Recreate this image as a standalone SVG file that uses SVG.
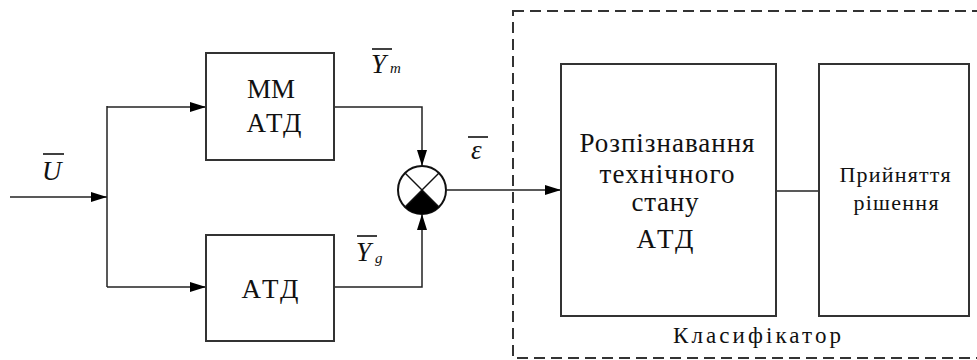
<svg xmlns="http://www.w3.org/2000/svg" width="977" height="360" viewBox="0 0 977 360">
<defs>
<marker id="arr" viewBox="0 0 16 10" refX="16" refY="5" markerWidth="16" markerHeight="10" markerUnits="userSpaceOnUse" orient="auto">
<path d="M0,0 L16,5 L0,10 Z" fill="#000"/>
</marker>
</defs>
<rect width="977" height="360" fill="#fff"/>
<g id="classifier">
<rect x="513" y="11" width="480" height="347" fill="none" stroke="#333" stroke-width="2" stroke-dasharray="11 6"/>
<text x="757" y="343" font-size="23" text-anchor="middle" fill="#111" font-family="Liberation Serif" textLength="168" lengthAdjust="spacing">Класифікатор</text>
</g>
<g id="connectors" fill="none" stroke="#222" stroke-width="1.5">
<line x1="10" y1="197" x2="107" y2="197" marker-end="url(#arr)"/>
<polyline points="107,106 107,287"/>
<line x1="107" y1="107" x2="206" y2="107" marker-end="url(#arr)"/>
<line x1="107" y1="287" x2="206" y2="287" marker-end="url(#arr)"/>
<polyline points="334,107 422,107 422,166" marker-end="url(#arr)"/>
<polyline points="334,287 422,287 422,214" marker-end="url(#arr)"/>
<line x1="447" y1="190" x2="561" y2="190" marker-end="url(#arr)"/>
<line x1="776" y1="191" x2="819" y2="191"/>
</g>
<g id="mm">
<rect x="206" y="53" width="128" height="107" fill="#fff" stroke="#333" stroke-width="2"/>
<text x="271" y="98" font-size="27" text-anchor="middle" fill="#111" font-family="Liberation Serif">ММ</text>
<text x="274" y="132" font-size="27" text-anchor="middle" fill="#111" font-family="Liberation Serif" textLength="55" lengthAdjust="spacing">АТД</text>
</g>
<g id="atd">
<rect x="206" y="235" width="128" height="106" fill="#fff" stroke="#333" stroke-width="2"/>
<text x="270" y="298" font-size="27" text-anchor="middle" fill="#111" font-family="Liberation Serif" textLength="57" lengthAdjust="spacing">АТД</text>
</g>
<g id="sum">
<circle cx="422" cy="190" r="24" fill="#fff" stroke="#111" stroke-width="2"/>
<path d="M422,190 L439,207 A24,24 0 0 1 405,207 Z" fill="#000"/>
<line x1="405" y1="173" x2="439" y2="207" stroke="#111" stroke-width="1.5"/>
<line x1="439" y1="173" x2="405" y2="207" stroke="#111" stroke-width="1.5"/>
</g>
<g id="recog">
<rect x="561" y="64" width="215" height="252" fill="#fff" stroke="#333" stroke-width="2"/>
<text x="667" y="152" font-size="27" text-anchor="middle" fill="#111" font-family="Liberation Serif" textLength="175" lengthAdjust="spacing">Розпізнавання</text>
<text x="667" y="183" font-size="27" text-anchor="middle" fill="#111" font-family="Liberation Serif" textLength="135" lengthAdjust="spacing">технічного</text>
<text x="665" y="211" font-size="27" text-anchor="middle" fill="#111" font-family="Liberation Serif" textLength="67" lengthAdjust="spacing">стану</text>
<text x="665" y="248" font-size="27" text-anchor="middle" fill="#111" font-family="Liberation Serif" textLength="57" lengthAdjust="spacing">АТД</text>
</g>
<g id="decision">
<rect x="819" y="64" width="150" height="252" fill="#fff" stroke="#333" stroke-width="2"/>
<text x="895" y="182" font-size="22" text-anchor="middle" fill="#111" font-family="Liberation Serif" textLength="111" lengthAdjust="spacing">Прийняття</text>
<text x="896" y="210" font-size="22" text-anchor="middle" fill="#111" font-family="Liberation Serif" textLength="85" lengthAdjust="spacing">рішення</text>
</g>
<g id="labels" fill="#111" font-style="italic" font-family="Liberation Serif">
<line x1="43" y1="154" x2="64" y2="154" stroke="#111" stroke-width="1.6"/>
<text x="42" y="180" font-size="27" font-family="Liberation Serif">U</text>
<line x1="372" y1="49" x2="392" y2="49" stroke="#111" stroke-width="1.6"/>
<text x="371" y="73" font-size="27" font-family="Liberation Serif">Y</text>
<text x="390" y="73" font-size="15" font-family="Liberation Serif">m</text>
<line x1="357" y1="236" x2="377" y2="236" stroke="#111" stroke-width="1.6"/>
<text x="356" y="261" font-size="27" font-family="Liberation Serif">Y</text>
<text x="375" y="263" font-size="15" font-family="Liberation Serif">g</text>
<line x1="468" y1="137" x2="488" y2="137" stroke="#111" stroke-width="1.6"/>
<text x="471" y="159" font-size="27" font-family="Liberation Serif">ε</text>
</g>
</svg>
